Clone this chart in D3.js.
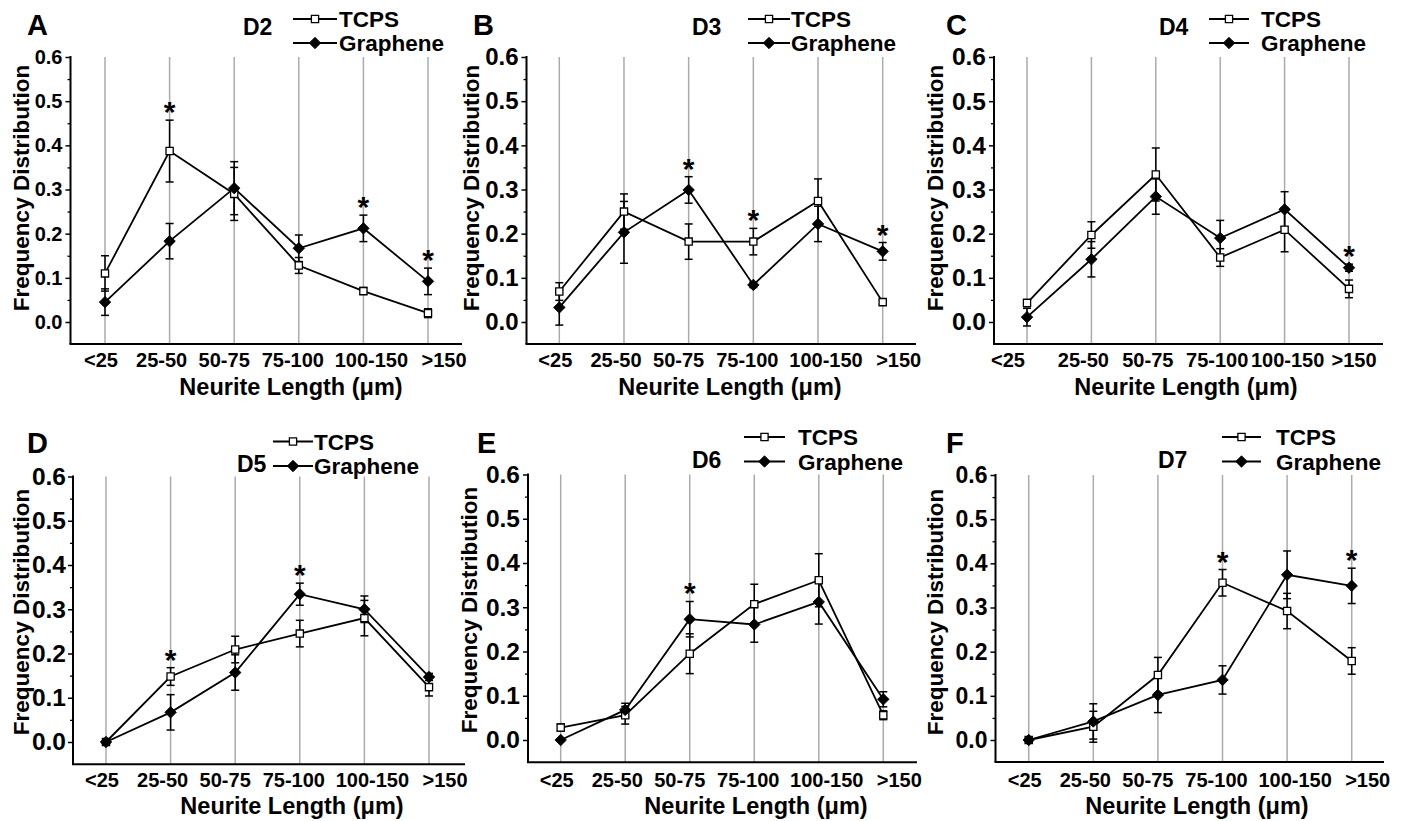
<!DOCTYPE html>
<html>
<head>
<meta charset="utf-8">
<script src="https://cdn.jsdelivr.net/npm/d3@7"></script>
<style>
 body { margin: 0; background: #fff; }
 text { font-family: "Liberation Sans", Arial, sans-serif; font-weight: bold; fill: #000; }
</style>
</head>
<body>
<div id="fig"></div>
<script>
// ---- data ----
var categories = ["<25", "25-50", "50-75", "75-100", "100-150", ">150"];
var days = ["D2", "D3", "D4", "D5", "D6", "D7"];
var panelLetters = ["A", "B", "C", "D", "E", "F"];
var seriesNames = ["TCPS", "Graphene"];
var yTicks = [0, 0.1, 0.2, 0.3, 0.4, 0.5, 0.6];
var yMinorTicks = [0.05, 0.15, 0.25, 0.35, 0.45, 0.55];

// one row per day D2..D7
var tcpsMean = [
  [0.110, 0.387, 0.290, 0.128, 0.070, 0.020],
  [0.069, 0.250, 0.182, 0.182, 0.274, 0.045],
  [0.043, 0.197, 0.334, 0.146, 0.209, 0.075],
  [0.000, 0.148, 0.209, 0.245, 0.280, 0.124],
  [0.028, 0.056, 0.195, 0.307, 0.361, 0.056],
  [0.000, 0.030, 0.147, 0.356, 0.292, 0.179]
];
var tcpsErr = [
  [0.040, 0.070, 0.060, 0.018, 0.008, 0.010],
  [0.020, 0.040, 0.040, 0.030, 0.050, 0.005],
  [0.008, 0.030, 0.060, 0.020, 0.050, 0.020],
  [0.002, 0.020, 0.030, 0.030, 0.040, 0.020],
  [0.008, 0.020, 0.045, 0.045, 0.060, 0.010],
  [0.002, 0.035, 0.040, 0.030, 0.040, 0.030]
];
var grapheneMean = [
  [0.045, 0.183, 0.303, 0.167, 0.212, 0.092],
  [0.033, 0.203, 0.299, 0.084, 0.222, 0.160],
  [0.011, 0.142, 0.284, 0.190, 0.255, 0.123],
  [0.000, 0.067, 0.157, 0.334, 0.300, 0.147],
  [0.000, 0.068, 0.273, 0.261, 0.312, 0.092],
  [0.000, 0.042, 0.102, 0.136, 0.374, 0.349]
];
var grapheneErr = [
  [0.030, 0.040, 0.060, 0.030, 0.030, 0.030],
  [0.040, 0.070, 0.030, 0.006, 0.040, 0.020],
  [0.020, 0.040, 0.040, 0.040, 0.040, 0.008],
  [0.002, 0.040, 0.040, 0.025, 0.030, 0.008],
  [0.002, 0.015, 0.040, 0.040, 0.050, 0.017],
  [0.002, 0.040, 0.040, 0.032, 0.054, 0.040]
];
// category indices marked with *
var significant = [[1, 4, 5], [2, 3, 5], [5], [1, 3], [2], [3, 5]];

// ---- layout of the six panels ----
var layout = [
  {ax: 70.5, axEnd: 462, g0: 105, g5: 428, yTop: 57, yZero: 322, tickFont: 20, tickPad: 3,
   labY: 367, xTitleX: 291, xTitleY: 395, yTitleX: 29, yTitleY: 188,
   letterX: 27, letterY: 35, dayX: 243, dayY: 35, legX1: 293, legX2: 337, legTx: 339, legY1: 19, legY2: 43},
  {ax: 526.5, axEnd: 916, g0: 559.3, g5: 882.7, yTop: 57, yZero: 322, tickFont: 24, tickPad: 3,
   labY: 367, xTitleX: 730, xTitleY: 395, yTitleX: 479, yTitleY: 188,
   letterX: 473, letterY: 35, dayX: 692, dayY: 35, legX1: 748, legX2: 790, legTx: 791, legY1: 19, legY2: 43},
  {ax: 994, axEnd: 1383, g0: 1027, g5: 1349, yTop: 57, yZero: 322, tickFont: 24.5, tickPad: 3,
   labY: 367, xTitleX: 1186, xTitleY: 395, yTitleX: 943, yTitleY: 188,
   letterX: 946, letterY: 35, dayX: 1159, dayY: 35, legX1: 1209, legX2: 1249, legTx: 1261, legY1: 19, legY2: 43},
  {ax: 73, axEnd: 465, g0: 106, g5: 429, yTop: 476.5, yZero: 742, tickFont: 24.5, tickPad: 2,
   labY: 787, xTitleX: 292, xTitleY: 814, yTitleX: 29, yTitleY: 612,
   letterX: 27, letterY: 453, dayX: 237, dayY: 472, legX1: 273, legX2: 313, legTx: 314, legY1: 441.5, legY2: 466},
  {ax: 528, axEnd: 917, g0: 560.7, g5: 883.3, yTop: 474.5, yZero: 740, tickFont: 24.5, tickPad: 3,
   labY: 787, xTitleX: 756, xTitleY: 814, yTitleX: 477, yTitleY: 610,
   letterX: 477, letterY: 453, dayX: 692, dayY: 468, legX1: 744, legX2: 785, legTx: 798, legY1: 437, legY2: 461.5},
  {ax: 995.5, axEnd: 1384, g0: 1028.7, g5: 1351.7, yTop: 475, yZero: 740, tickFont: 23, tickPad: 3,
   labY: 787, xTitleX: 1197, xTitleY: 814, yTitleX: 943, yTitleY: 612,
   letterX: 946, letterY: 453, dayX: 1158, dayY: 468, legX1: 1222, legX2: 1261, legTx: 1276, legY1: 437, legY2: 461.5}
];
// horizontal nudge of the category labels relative to the grid lines
var labelNudge = [-4, -8, -10, -6, 8, 16];
var labelNudgeC = [-19, -8, -8, -3, 3, 5];

var svg = d3.select("#fig").append("svg").attr("width", 1406).attr("height", 821);

var square = d3.symbol().type(d3.symbolSquare).size(52);
var diamond = d3.symbol().type(d3.symbolSquare).size(66);

function drawMarker(g, kind, cx, cy) {
  if (kind === 0) {
    g.append("path").attr("d", square()).attr("transform", "translate(" + cx + "," + cy + ")")
     .attr("fill", "#fff").attr("stroke", "#000").attr("stroke-width", 1.3);
  } else {
    g.append("path").attr("d", diamond()).attr("transform", "translate(" + cx + "," + cy + ") rotate(45)")
     .attr("fill", "#000").attr("stroke", "#000").attr("stroke-width", 0.8);
  }
}

layout.forEach(function(L, p) {
  var g = svg.append("g");
  var x = d3.scalePoint().domain(categories).range([L.g0, L.g5]);
  var y = d3.scaleLinear().domain([0, 0.6]).range([L.yZero, L.yTop]);
  var yBase = y(-0.05);

  // vertical grid lines
  g.selectAll(".grid").data(categories).enter().append("line")
   .attr("x1", function(d) { return x(d); }).attr("x2", function(d) { return x(d); })
   .attr("y1", y(0.6)).attr("y2", yBase)
   .attr("stroke", "#ababab").attr("stroke-width", 1.5);

  // y axis ticks
  var ga = g.append("g").attr("transform", "translate(" + L.ax + ",0)")
   .call(d3.axisLeft(y).tickValues(yTicks).tickFormat(d3.format(".1f")).tickSize(5).tickPadding(L.tickPad));
  ga.select(".domain").remove();
  ga.selectAll("line").attr("stroke", "#000").attr("stroke-width", 1.5);
  ga.selectAll("text").attr("font-size", L.tickFont);
  var gm = g.append("g").attr("transform", "translate(" + L.ax + ",0)")
   .call(d3.axisLeft(y).tickValues(yMinorTicks).tickFormat("").tickSize(3));
  gm.select(".domain").remove();
  gm.selectAll("line").attr("stroke", "#000").attr("stroke-width", 1.3);

  // axis lines
  g.append("line").attr("x1", L.ax).attr("x2", L.ax).attr("y1", y(0.6) - 1).attr("y2", yBase)
   .attr("stroke", "#000").attr("stroke-width", 2);
  g.append("line").attr("x1", L.ax - 1).attr("x2", L.axEnd).attr("y1", yBase).attr("y2", yBase)
   .attr("stroke", "#000").attr("stroke-width", 2);

  // category labels
  var nudge = p === 2 ? labelNudgeC : labelNudge;
  g.selectAll(".cat").data(categories).enter().append("text")
   .attr("x", function(d, i) { return x(d) + nudge[i]; }).attr("y", L.labY)
   .attr("text-anchor", "middle").attr("font-size", 20).text(function(d) { return d; });

  // axis titles
  g.append("text").attr("x", L.xTitleX).attr("y", L.xTitleY).attr("text-anchor", "middle")
   .attr("font-size", 23.5).text("Neurite Length (\u03bcm)");
  g.append("text").attr("transform", "translate(" + L.yTitleX + "," + L.yTitleY + ") rotate(-90)")
   .attr("text-anchor", "middle").attr("font-size", 22.5).text("Frequency Distribution");

  var means = [tcpsMean[p], grapheneMean[p]];
  var errs = [tcpsErr[p], grapheneErr[p]];

  // error bars
  means.forEach(function(m, s) {
    m.forEach(function(v, i) {
      var cx = x(categories[i]), e = errs[s][i];
      var t = y(v + e), b = y(v - e);
      g.append("line").attr("x1", cx).attr("x2", cx).attr("y1", t).attr("y2", b)
       .attr("stroke", "#000").attr("stroke-width", 1.5);
      [t, b].forEach(function(yy) {
        g.append("line").attr("x1", cx - 4).attr("x2", cx + 4).attr("y1", yy).attr("y2", yy)
         .attr("stroke", "#000").attr("stroke-width", 1.5);
      });
    });
  });

  // series lines
  var line = d3.line().x(function(d, i) { return x(categories[i]); }).y(function(d) { return y(d); });
  means.forEach(function(m) {
    g.append("path").attr("d", line(m)).attr("fill", "none").attr("stroke", "#000").attr("stroke-width", 1.8);
  });

  // markers
  means.forEach(function(m, s) {
    m.forEach(function(v, i) { drawMarker(g, s, x(categories[i]), y(v)); });
  });

  // significance stars
  significant[p].forEach(function(i) {
    var top = Math.max(tcpsMean[p][i] + tcpsErr[p][i], grapheneMean[p][i] + grapheneErr[p][i]);
    g.append("text").attr("x", x(categories[i])).attr("y", y(top) + 2)
     .attr("text-anchor", "middle").attr("font-size", 30).text("*");
  });

  // panel letter and day label
  g.append("text").attr("x", L.letterX).attr("y", L.letterY).attr("font-size", 29).text(panelLetters[p]);
  g.append("text").attr("x", L.dayX).attr("y", L.dayY).attr("font-size", 23).text(days[p]);

  // legend
  [L.legY1, L.legY2].forEach(function(ly, s) {
    g.append("line").attr("x1", L.legX1).attr("x2", L.legX2).attr("y1", ly).attr("y2", ly)
     .attr("stroke", "#000").attr("stroke-width", 1.8);
    drawMarker(g, s, (L.legX1 + L.legX2) / 2, ly);
    g.append("text").attr("x", L.legTx).attr("y", ly + 8).attr("font-size", 22.5).text(seriesNames[s]);
  });
});
</script>
</body>
</html>
